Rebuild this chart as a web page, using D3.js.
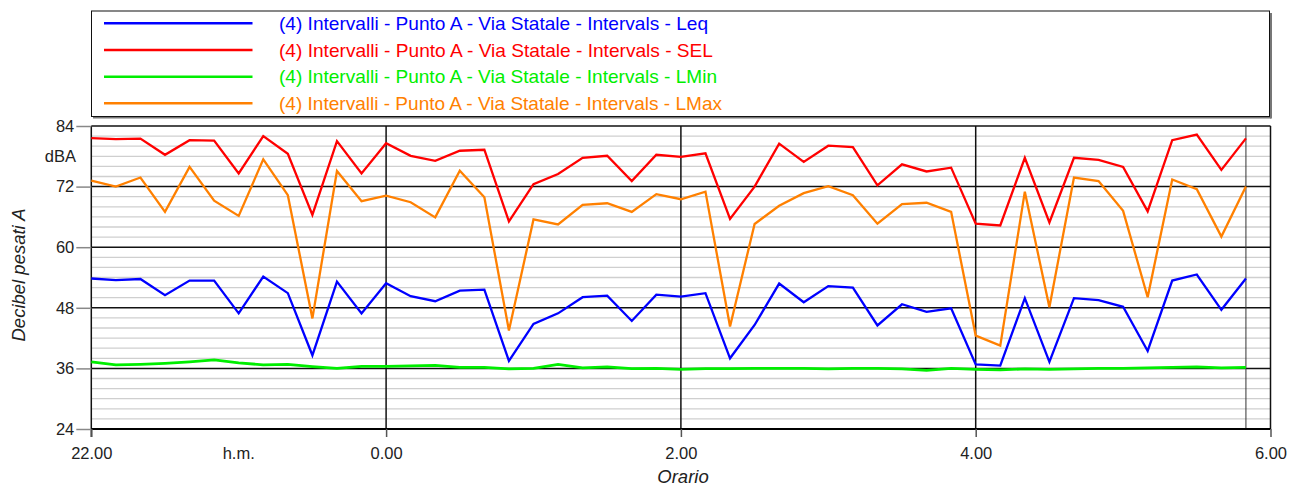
<!DOCTYPE html>
<html><head><meta charset="utf-8">
<script src="https://cdn.jsdelivr.net/npm/d3@7"></script>
<style>
html,body{margin:0;padding:0;background:#fff;}
svg{display:block;font-family:"Liberation Sans",Arial,sans-serif;}
</style></head>
<body><svg id="c" width="1297" height="487"></svg>
<script>
const times = ["22:00","22:10","22:20","22:30","22:40","22:50","23:00","23:10","23:20","23:30","23:40","23:50",
"00:00","00:10","00:20","00:30","00:40","00:50","01:00","01:10","01:20","01:30","01:40","01:50",
"02:00","02:10","02:20","02:30","02:40","02:50","03:00","03:10","03:20","03:30","03:40","03:50",
"04:00","04:10","04:20","04:30","04:40","04:50","05:00","05:10","05:20","05:30","05:40","05:50"];
const leq = [53.8,53.5,53.7,50.5,53.4,53.4,46.9,54.2,50.9,38.6,53.2,46.9,52.85,
50.3,49.3,51.4,51.6,37.5,44.8,46.9,50.1,50.4,45.4,50.6,50.2,50.9,38.0,44.6,52.8,
49.1,52.3,52.0,44.5,48.7,47.2,47.9,36.8,36.55,49.9,37.3,49.9,49.5,48.2,39.45,53.4,54.6,47.6,53.8];
const sel = [81.6,81.4,81.5,78.3,81.2,81.1,74.6,82.0,78.5,66.4,81.0,74.6,80.6,
78.1,77.1,79.1,79.3,65.1,72.5,74.5,77.7,78.1,73.1,78.3,77.9,78.6,65.6,72.0,80.5,
76.9,80.1,79.8,72.25,76.4,75.0,75.75,64.65,64.3,77.7,64.9,77.7,77.3,75.9,67.1,81.2,82.3,75.3,81.55];
const lmin = [37.3,36.7,36.8,37.0,37.3,37.7,37.1,36.7,36.8,36.35,36.0,36.4,36.4,
36.5,36.6,36.2,36.2,35.9,36.0,36.8,36.1,36.3,35.95,36.0,35.8,35.95,35.95,36.0,36.0,
36.0,35.9,36.0,36.0,35.9,35.6,36.0,35.8,35.7,35.9,35.8,35.9,36.0,36.0,36.1,36.2,36.3,36.1,36.2];
const lmax = [73.2,72.0,73.8,67.0,75.9,69.2,66.2,77.4,70.3,45.9,75.1,69.1,70.2,
68.9,65.9,75.15,69.9,43.5,65.5,64.5,68.4,68.7,67.0,70.5,69.5,71.0,44.3,64.6,68.2,
70.7,72.1,70.3,64.65,68.55,68.8,67.0,42.5,40.5,71.0,48.1,73.8,73.1,67.2,50.1,73.4,71.5,62.1,72.0];
const seriesNames = ["(4) Intervalli - Punto A - Via Statale - Intervals - Leq",
"(4) Intervalli - Punto A - Via Statale - Intervals - SEL",
"(4) Intervalli - Punto A - Via Statale - Intervals - LMin",
"(4) Intervalli - Punto A - Via Statale - Intervals - LMax"];
const yTicks = [24,36,48,60,72,84];
const xTickMinutes = [0,120,240,360,480];
const xTickLabels = ["22.00","0.00","2.00","4.00","6.00"];

const colors = ["#0000ff","#ff0000","#00ee00","#ff8000"];
const series = [leq, sel, lmin, lmax];

const svg = d3.select("#c");
const L = 91.3, R = 1270.5, T = 126, B = 429;
const toMin = t => { const [h,m] = t.split(":").map(Number); return ((h>=22? h-22 : h+2)*60 + m); };
const x = d3.scaleLinear().domain([0,480]).range([L,R]);
const y = d3.scaleLinear().domain([24,84]).range([B,T]);

// minor grid every 2 dB
const g = svg.append("g");
g.selectAll("line.minor").data(d3.range(26,84,2).filter(v=>v%12!==0)).join("line")
  .attr("x1",L).attr("x2",R).attr("y1",d=>y(d)).attr("y2",d=>y(d))
  .attr("stroke","#cfcfcf").attr("stroke-width",1.3);
// major horizontal
g.selectAll("line.major").data(yTicks.filter(v=>v!==24)).join("line")
  .attr("x1",L).attr("x2",R).attr("y1",d=>y(d)).attr("y2",d=>y(d))
  .attr("stroke","#111").attr("stroke-width",1.5);
// vertical lines
g.selectAll("line.v").data([120,240,360]).join("line")
  .attr("x1",d=>x(d)).attr("x2",d=>x(d)).attr("y1",T).attr("y2",B)
  .attr("stroke","#111").attr("stroke-width",1.5);
g.append("line").attr("x1",x(toMin("05:50"))).attr("x2",x(toMin("05:50"))).attr("y1",T).attr("y2",B)
  .attr("stroke","#333").attr("stroke-width",1);
// borders
g.append("line").attr("x1",L).attr("x2",L).attr("y1",T).attr("y2",B+8).attr("stroke","#111").attr("stroke-width",1.5);
g.append("line").attr("x1",R).attr("x2",R).attr("y1",T).attr("y2",B).attr("stroke","#111").attr("stroke-width",1.5);
g.append("line").attr("x1",L).attr("x2",R).attr("y1",B).attr("y2",B).attr("stroke","#000").attr("stroke-width",2);

// y axis
const yAxis = d3.axisLeft(y).tickValues(yTicks).tickSize(15).tickPadding(2);
const ya = svg.append("g").attr("transform",`translate(${L},0)`).call(yAxis);
ya.select(".domain").remove();
ya.selectAll(".tick line").attr("stroke","#888").attr("stroke-width",1.5);
ya.selectAll(".tick text").attr("font-size",16.5).attr("fill","#222").attr("font-family","Liberation Sans, Arial, sans-serif");
svg.append("text").attr("x",76).attr("y",y(78)).attr("dy","0.35em").attr("text-anchor","end")
  .attr("font-size",16.5).attr("fill","#222").text("dBA");

// x axis
const xAxis = d3.axisBottom(x).tickValues(xTickMinutes).tickFormat((d,i)=>xTickLabels[i]).tickSize(8).tickPadding(10);
const xa = svg.append("g").attr("transform",`translate(0,${B})`).call(xAxis);
xa.select(".domain").remove();
xa.selectAll(".tick line").attr("stroke","#555").attr("stroke-width",1.5);
xa.selectAll(".tick text").attr("font-size",16.5).attr("fill","#222").attr("font-family","Liberation Sans, Arial, sans-serif");
svg.append("text").attr("x",x(60)).attr("y",459).attr("text-anchor","middle")
  .attr("font-size",16.5).attr("fill","#222").text("h.m.");

// axis titles
svg.append("text").attr("transform",`translate(25,${275}) rotate(-90)`).attr("text-anchor","middle")
  .attr("font-size",18.5).attr("font-style","italic").attr("fill","#222").text("Decibel pesati A");
svg.append("text").attr("x",683).attr("y",483).attr("text-anchor","middle")
  .attr("font-size",18.5).attr("font-style","italic").attr("fill","#222").text("Orario");

// lines
const line = d3.line().x((d,i)=>x(toMin(times[i]))).y(d=>y(d));
const drawOrder = [2,3,0,1];
drawOrder.forEach(k=>{
  svg.append("path").datum(series[k]).attr("d",line).attr("fill","none")
    .attr("stroke",colors[k]).attr("stroke-width",k===2?2.8:2.3).attr("stroke-linejoin","miter");
});

// legend
const lg = svg.append("g");
lg.append("line").attr("x1",93).attr("x2",1271).attr("y1",117.5).attr("y2",117.5).attr("stroke","#777").attr("stroke-width",2);
lg.append("line").attr("x1",1271).attr("x2",1271).attr("y1",13).attr("y2",118.5).attr("stroke","#777").attr("stroke-width",2);
lg.append("rect").attr("x",91.5).attr("y",11).attr("width",1178).attr("height",105.5)
  .attr("fill","#fff").attr("stroke","#111").attr("stroke-width",1);
const ly = [23.3, 50, 76.7, 103.3];
const lw = [429, 434, 438, 443];
seriesNames.forEach((n,i)=>{
  lg.append("line").attr("x1",104).attr("x2",252.5).attr("y1",ly[i]).attr("y2",ly[i])
    .attr("stroke",colors[i]).attr("stroke-width",2.5);
  lg.append("text").attr("x",279).attr("y",ly[i]+6.7).attr("font-size",18.5)
    .attr("textLength",lw[i]).attr("lengthAdjust","spacingAndGlyphs")
    .attr("fill",colors[i]).text(n);
});
</script></body></html>
